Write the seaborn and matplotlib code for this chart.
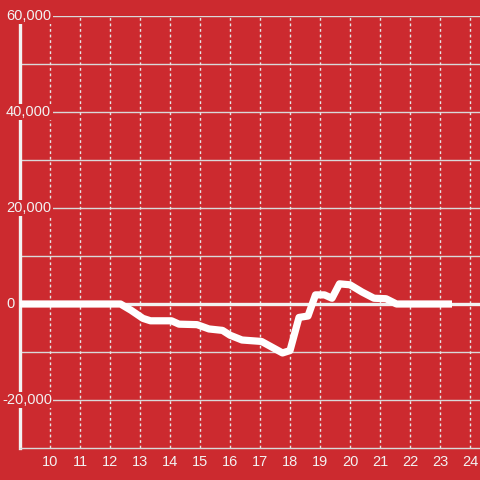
import numpy as np
import pandas as pd
import matplotlib
matplotlib.use("Agg")
import matplotlib.pyplot as plt
import seaborn as sns

# data
hours = [9, 10, 11, 12, 12.35, 12.7, 13.1, 13.35, 14.05, 14.3, 14.9, 15.3,
         15.75, 16.0, 16.4, 17.05, 17.4, 17.75, 18.0, 18.3, 18.6, 18.85,
         19.15, 19.4, 19.65, 20.0, 20.4, 20.8, 21.2, 21.55, 22, 23, 23.4]
values = [0, 0, 0, 0, 0, -1300, -3000, -3500, -3500, -4200, -4300, -5200,
          -5500, -6500, -7500, -7800, -9000, -10200, -9700, -2800, -2500, 1900,
          1900, 1200, 4200, 4000, 2500, 1200, 1100, 0, 0, 0, 0]
x_ticks = list(range(10, 25))
y_labels = [-20000, 0, 20000, 40000, 60000]

bg = "#cc2a2f"
light = "#f2f2f2"

sns.set_theme(style="white")
plt.rcParams['font.family'] = ['Liberation Sans', 'DejaVu Sans']

fig = plt.figure(figsize=(4.8, 4.8), dpi=100, facecolor=bg)
ax = fig.add_axes([20 / 480, 32 / 480, 460 / 480, 432 / 480], facecolor=bg)

df = pd.DataFrame({"hour": hours, "value": values})

ax.set_xlim(9, 9 + 460 / 30)
ax.set_ylim(-30000, 60000)

# grid
for yv in range(-20000, 60001, 10000):
    if yv != 0:
        ax.axhline(yv, color="#d9d9d9", lw=1.0, zorder=1)
for xv in x_ticks:
    ax.axvline(xv, color="#e6e6e6", lw=1.0, ls=(0, (2, 2)), zorder=1)
ax.axhline(0, color=light, lw=2.4, zorder=2)

sns.lineplot(data=df, x="hour", y="value", ax=ax, color="white", lw=5.2,
             estimator=None, sort=False, zorder=4,
             solid_joinstyle="round", solid_capstyle="butt")

for s in ["top", "right"]:
    ax.spines[s].set_visible(False)
ax.spines["left"].set_color(light)
ax.spines["left"].set_linewidth(2.4)
ax.spines["bottom"].set_color("#d9d9d9")
ax.spines["bottom"].set_linewidth(1.0)

ax.set_xticks(x_ticks)
ax.set_xticklabels([str(t) for t in x_ticks])
ax.set_yticks([])
ax.tick_params(axis="x", length=0, pad=5, labelsize=10.5, labelcolor=light)
ax.set_xlabel("")
ax.set_ylabel("")

# y labels sit inside over the axis line with a red box
trans = ax.get_yaxis_transform()
for yv in y_labels:
    off = -4 if yv < 0 else 0
    ax.text((6 + off - 20) / 460, yv, f"{yv:,}", transform=trans,
            ha="left", va="center", fontsize=10.5, color=light, zorder=5,
            clip_on=False,
            bbox=dict(boxstyle="square,pad=0.1", fc=bg, ec="none"))

fig.savefig("out.png", dpi=100, facecolor=bg)
